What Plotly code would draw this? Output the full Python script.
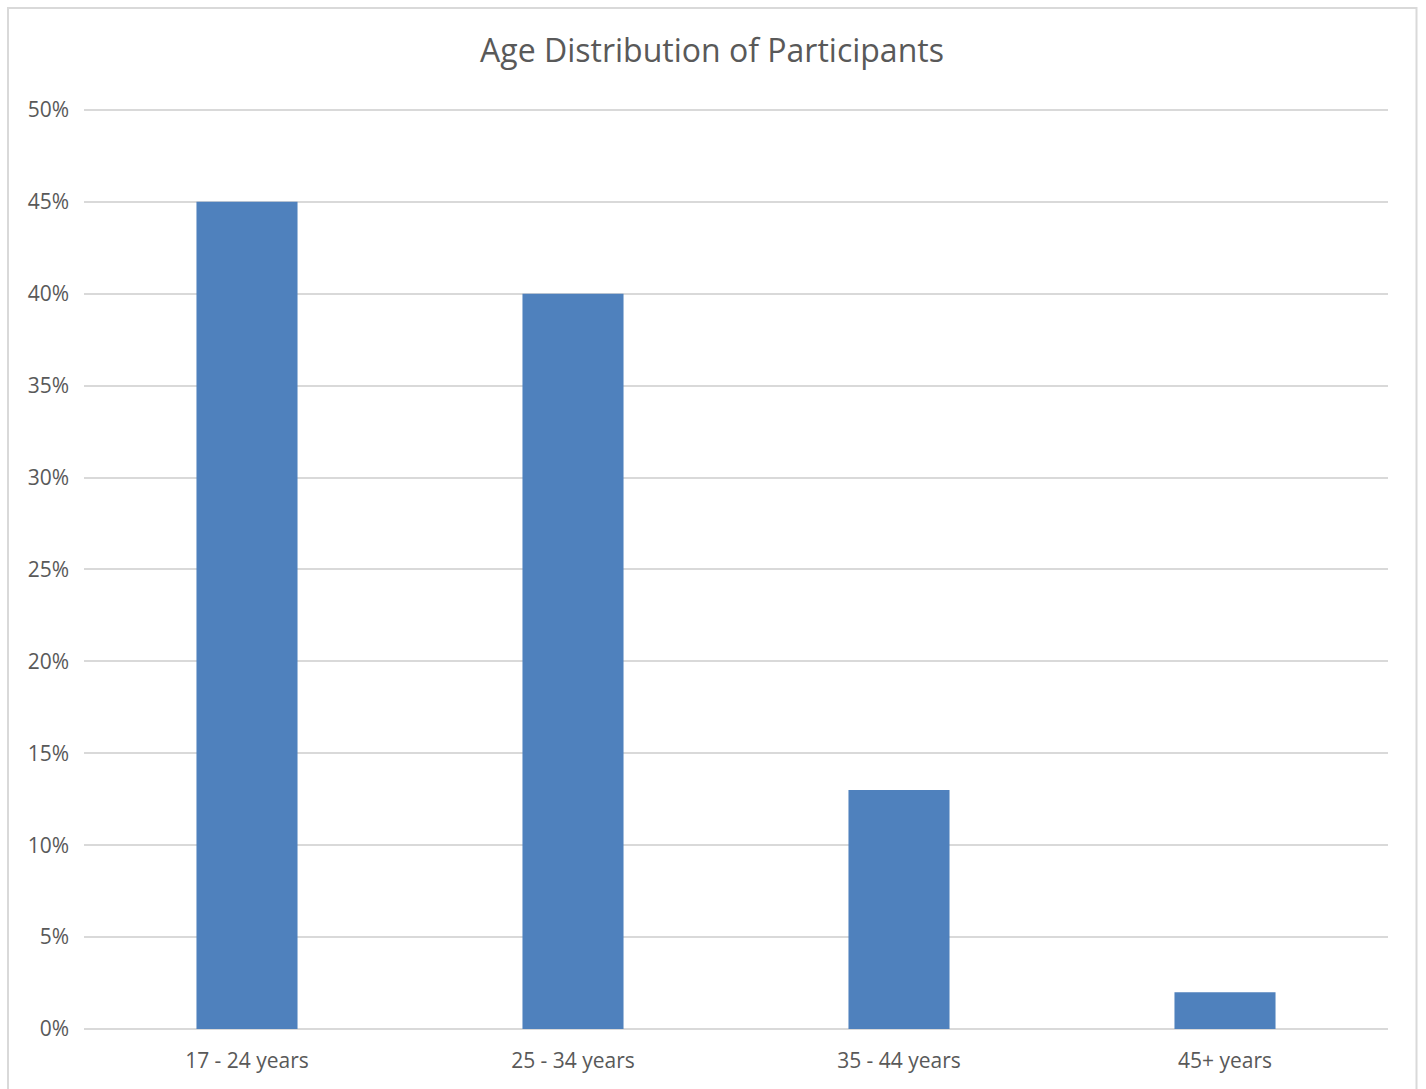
import plotly.graph_objects as go

categories = ["17 - 24 years", "25 - 34 years", "35 - 44 years", "45+ years"]
shares = [0.45, 0.40, 0.13, 0.02]
y_ticks = [0, 0.05, 0.10, 0.15, 0.20, 0.25, 0.30, 0.35, 0.40, 0.45, 0.50]
y_tick_labels = ["0%", "5%", "10%", "15%", "20%", "25%", "30%", "35%", "40%", "45%", "50%"]
title_text = "Age Distribution of Participants"

W, H = 1426, 1089
L, R, T, B = 84, 38, 108, 60
pw, ph = W - L - R, H - T - B

font_family = "Open Sans, Liberation Sans, sans-serif"
text_color = "#595959"
grid_color = "#d9d9d9"

fig = go.Figure(
    go.Bar(
        x=categories,
        y=shares,
        marker=dict(color="#4f81bd", line=dict(width=0)),
        width=0.31,
    )
)

fig.update_layout(
    width=W,
    height=H,
    margin=dict(l=L, r=R, t=T, b=B, pad=0),
    paper_bgcolor="white",
    plot_bgcolor="white",
    showlegend=False,
    title=dict(
        text=title_text,
        x=712 / W,
        xanchor="center",
        y=1 - 51 / H,
        yanchor="middle",
        xref="container",
        yref="container",
        font=dict(family=font_family, size=32, color=text_color),
    ),
    font=dict(family=font_family, color=text_color),
    shapes=[
        dict(
            type="rect",
            xref="paper",
            yref="paper",
            x0=(8 - L) / pw,
            x1=(1416.5 - L) / pw,
            y0=-(H + 10 - T - ph) / ph,
            y1=(H - 8 - B) / ph,
            line=dict(color=grid_color, width=2),
            fillcolor="rgba(0,0,0,0)",
            layer="below",
        )
    ],
)

fig.update_xaxes(
    showgrid=False,
    showline=False,
    ticks="",
    tickfont=dict(family=font_family, size=21, color=text_color),
    ticklabelstandoff=17,
)
fig.update_yaxes(
    range=[0, 0.501],
    tickvals=y_ticks,
    ticktext=y_tick_labels,
    showgrid=True,
    gridcolor=grid_color,
    gridwidth=1.5,
    zeroline=True,
    zerolinecolor=grid_color,
    zerolinewidth=1.5,
    showline=False,
    ticks="",
    tickfont=dict(family=font_family, size=21, color=text_color),
    ticklabelstandoff=14,
)

fig.write_html("out.html")
